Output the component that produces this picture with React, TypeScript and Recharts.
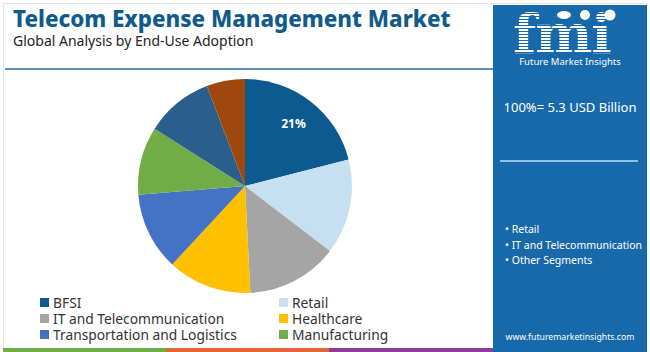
import React from "react";
import { PieChart, Pie, Cell, Legend } from "recharts";

const SEGMENTS = [
  "BFSI",
  "Retail",
  "IT and Telecommunication",
  "Healthcare",
  "Transportation and Logistics",
  "Manufacturing",
  "Government",
  "Others",
];
const SHARES = [21, 14.4, 13.8, 12.7, 11.8, 10.3, 10.2, 5.8];
const COLORS = ["#0d5a90", "#c5e1f1", "#a5a5a5", "#ffc000", "#4472c4", "#70ad47", "#2a5e8c", "#9e480e"];
const LEGEND_COUNT = 6;
const PANEL_BULLETS = ["Retail", "IT and Telecommunication", "Other Segments"];

const data = SEGMENTS.map((name, i) => ({ name, value: SHARES[i] }));

const FONT = "'Noto Sans', 'Open Sans', sans-serif";
const RAD = Math.PI / 180;
const PANEL = "#1769aa";

function renderLabel(props: any) {
  const { cx, cy, midAngle, outerRadius, index, value } = props;
  if (index !== 0) return null;
  const r = outerRadius * 0.74;
  const x = cx + r * Math.cos(-midAngle * RAD);
  const y = cy + r * Math.sin(-midAngle * RAD);
  return (
    <text x={x} y={y} fill="#fff" fontSize={12} fontWeight={700} fontFamily={FONT} textAnchor="middle" dominantBaseline="central">
      {`${value}%`}
    </text>
  );
}

function LegendBox(props: any) {
  const items = (props.payload || [])
    .filter((it: any) => SEGMENTS.indexOf(it.value) < LEGEND_COUNT)
    .sort((a: any, b: any) => SEGMENTS.indexOf(a.value) - SEGMENTS.indexOf(b.value));
  return (
    <div style={{ display: "grid", gridTemplateColumns: "239px 200px", fontFamily: FONT, fontSize: 13.8, color: "#333" }}>
      {items.map((it: any) => (
        <div key={it.value} style={{ display: "flex", alignItems: "center", height: 16, overflow: "visible" }}>
          <span style={{ width: 9, height: 9, background: it.color, marginRight: 4, display: "inline-block" }} />
          <span style={{ lineHeight: "15px", whiteSpace: "nowrap" }}>{it.value}</span>
        </div>
      ))}
    </div>
  );
}

export default function App() {
  return (
    <div style={{ position: "absolute", left: 0, top: 0, width: 650, height: 352, background: "#fff", overflow: "hidden", fontFamily: FONT }}>
      <div style={{ position: "absolute", left: 3, top: 3, width: 642, height: 346, border: "1px solid #e3e3e3" }} />
      <div style={{ position: "absolute", left: 13, top: 6, fontSize: 22.3, lineHeight: "26px", fontWeight: 800, color: "#105a8c", whiteSpace: "nowrap" }}>
        Telecom Expense Management Market
      </div>
      <div style={{ position: "absolute", left: 13, top: 32, fontSize: 14, lineHeight: "17px", color: "#222", whiteSpace: "nowrap" }}>
        Global Analysis by End-Use Adoption
      </div>
      <div style={{ position: "absolute", left: 5, top: 68, width: 488, height: 2, background: "#5e8fb8" }} />

      <div style={{ position: "absolute", left: 0, top: 0 }}>
        <PieChart width={493} height={352} margin={{ top: 0, right: 0, bottom: 0, left: 0 }}>
          <Pie
            data={data}
            dataKey="value"
            nameKey="name"
            cx={245}
            cy={186}
            outerRadius={107}
            startAngle={90}
            endAngle={-270}
            stroke="none"
            label={renderLabel}
            labelLine={false}
            isAnimationActive={false}
          >
            {data.map((_, i) => (
              <Cell key={i} fill={COLORS[i]} />
            ))}
          </Pie>
          <Legend
            content={<LegendBox />}
            layout="vertical"
            wrapperStyle={{ position: "absolute", left: 40, top: 294, width: 450 }}
          />
        </PieChart>
      </div>

      <div style={{ position: "absolute", left: 3, top: 348, width: 163, height: 4, background: "#70ad47" }} />
      <div style={{ position: "absolute", left: 166, top: 348, width: 163, height: 4, background: "#e0683a" }} />
      <div style={{ position: "absolute", left: 329, top: 348, width: 164, height: 4, background: "#8e3a97" }} />

      <div style={{ position: "absolute", left: 493, top: 5, width: 154, height: 347, background: PANEL, color: "#fff" }}>
        <svg width={154} height={60} style={{ position: "absolute", left: 0, top: 0 }}>
          <defs>
            <pattern id="stripes" width={4} height={3} patternUnits="userSpaceOnUse">
              <rect width={4} height={2} fill="#fff" />
            </pattern>
          </defs>
          <text x={20} y={48} fontFamily="'DejaVu Serif', serif" fontWeight={700} fontSize={54} fill="url(#stripes)" letterSpacing={-1}>
            fmi
          </text>
          <ellipse cx={71} cy={10} rx={7} ry={4} fill="#fff" />
          <circle cx={92} cy={10} r={5} fill="#fff" />
          <circle cx={117} cy={10} r={5.5} fill="#fff" />
        </svg>
        <div style={{ position: "absolute", left: 0, width: 154, top: 51, fontSize: 9.5, lineHeight: "12px", textAlign: "center", whiteSpace: "nowrap" }}>
          Future Market Insights
        </div>
        <div style={{ position: "absolute", left: 0, width: 154, top: 93, fontSize: 13, textAlign: "center", whiteSpace: "nowrap" }}>
          100%= 5.3 USD Billion
        </div>
        <div style={{ position: "absolute", left: 7, top: 155, width: 138, height: 2, background: "#8cc2e8" }} />
        <div style={{ position: "absolute", left: 12, top: 217, fontSize: 10.5, lineHeight: "15.5px", whiteSpace: "nowrap" }}>
          {PANEL_BULLETS.map((b) => (
            <div key={b}>{`\u2022 ${b}`}</div>
          ))}
        </div>
        <div style={{ position: "absolute", left: 0, width: 154, top: 326, fontSize: 8.7, textAlign: "center", whiteSpace: "nowrap" }}>
          www.futuremarketinsights.com
        </div>
      </div>
    </div>
  );
}
